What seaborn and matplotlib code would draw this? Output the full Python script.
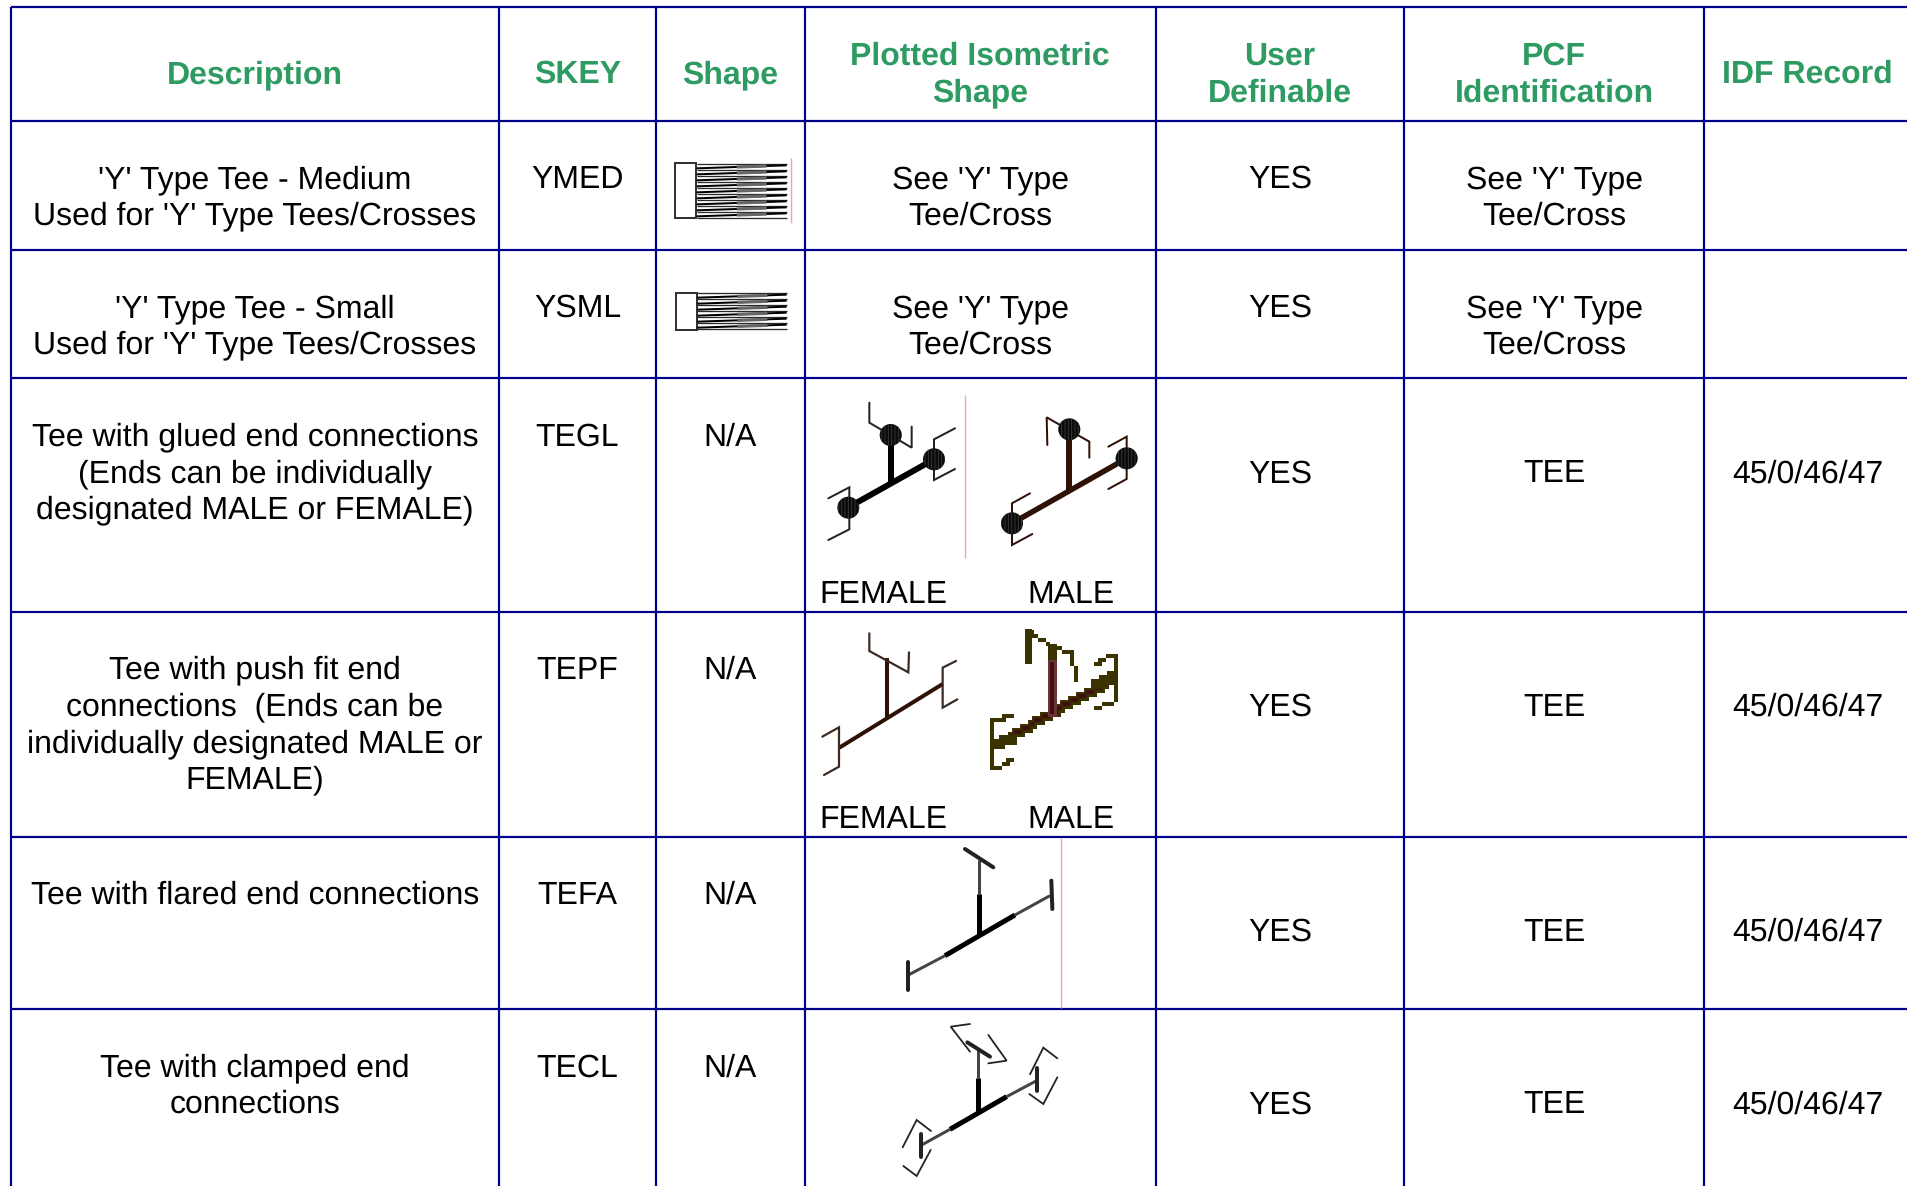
import numpy as np
import seaborn as sns
from matplotlib import pyplot as plt
from matplotlib.patches import Circle

sns.set_theme(style="white")
plt.rcParams['font.family'] = ['Liberation Sans', 'DejaVu Sans']
plt.rcParams['text.hinting'] = 'no_hinting'
plt.rcParams['hatch.linewidth'] = 0.6

# table text
headers = ["Description", "SKEY", "Shape", "Plotted Isometric\nShape", "User\nDefinable",
           "PCF\nIdentification", "IDF Record"]
descriptions = ["'Y' Type Tee - Medium\nUsed for 'Y' Type Tees/Crosses",
                "'Y' Type Tee - Small\nUsed for 'Y' Type Tees/Crosses",
                "Tee with glued end connections\n(Ends can be individually\ndesignated MALE or FEMALE)",
                "Tee with push fit end\nconnections  (Ends can be\nindividually designated MALE or\nFEMALE)",
                "Tee with flared end connections",
                "Tee with clamped end\nconnections"]
skeys = ["YMED", "YSML", "TEGL", "TEPF", "TEFA", "TECL"]
shapes = ["", "", "N/A", "N/A", "N/A", "N/A"]
plotted = ["See 'Y' Type\nTee/Cross", "See 'Y' Type\nTee/Cross", "", "", "", ""]
user_definable = ["YES", "YES", "YES", "YES", "YES", "YES"]
pcf_ids = ["See 'Y' Type\nTee/Cross", "See 'Y' Type\nTee/Cross", "TEE", "TEE", "TEE", "TEE"]
idf_records = ["", "", "45/0/46/47", "45/0/46/47", "45/0/46/47", "45/0/46/47"]

# table layout, in pixels of the picture
col_edges = [10.7, 499, 656, 804.7, 1155.7, 1404, 1704.5, 1911]
row_edges = [7, 121, 250, 378.3, 611.7, 836.7, 1009.3, 1186]
top_offset = 67
mid_offsets = [67, 67, 104, 104, 104, 104]
line_h = 36.6

NAVY = "#00008b"
GREEN = "#2e9b62"
PINK = "#f4a6a6"
BROWN = "#2e1206"
OLIVE = "#3a3300"
MAROON = "#3f0f12"
ROSE = "#6b3338"
GREY = "#444444"

# icon strokes (x, y in 3x crop coordinates)
ymed_left = [162, 180, 198, 216, 234, 252, 270, 288, 306, 324]
ysml_left = [550, 568, 586, 604, 622, 640, 658]

glued_f_main = [(145, 382), (402, 238)]
glued_f_stem = [(272, 165), (272, 305)]
glued_f_hubs = [(145, 383), (272, 165), (402, 238)]
glued_f_brackets = [[(208, 68), (208, 128), (335, 203), (335, 140)],
                    [(465, 145), (402, 178), (402, 300), (465, 267)],
                    [(85, 355), (148, 322), (148, 448), (85, 480)]]
glued_m_main = [(636, 430), (980, 235)]
glued_m_stem = [(808, 150), (808, 330)]
glued_m_hubs = [(636, 430), (808, 148), (980, 235)]
glued_m_brackets = [[(742, 195), (740, 112), (868, 185), (868, 233)],
                    [(925, 200), (980, 170), (980, 297), (925, 327)],
                    [(690, 340), (636, 370), (636, 495), (697, 462)]]

push_f_main = [(118, 383), (428, 192)]
push_f_stem = [(262, 115), (262, 295)]
push_f_brackets = [[(208, 40), (208, 93), (325, 157), (327, 97)],
                   [(468, 123), (428, 143), (428, 263), (472, 238)],
                   [(67, 350), (117, 322), (117, 440), (72, 465)]]
push_m_main = [(600, 368), (935, 176)]
push_m_ends = [[(592, 372), (635, 358)], [(890, 190), (935, 172)]]
push_m_stem_top = [(760, 80), (760, 135)]
push_m_stem_low = [(760, 135), (760, 275)]
push_m_post = [(688, 38), (688, 125)]
push_m_brackets = [[(690, 40), (760, 80), (820, 105), (825, 175)],
                   [(885, 133), (945, 103), (945, 245), (885, 268)],
                   [(635, 285), (578, 305), (578, 448), (640, 420)]]

flared_thin = [[(205, 420), (315, 362)], [(525, 240), (630, 182)], [(417, 178), (417, 75)]]
flared_thick = [[(315, 362), (525, 240)], [(417, 300), (417, 178)]]
flared_flanges = [[(375, 42), (460, 97)], [(634, 137), (637, 222)], [(203, 380), (203, 465)]]

clamped_thin = [[(245, 930), (330, 883)], [(500, 785), (588, 738)], [(415, 730), (415, 645)]]
clamped_thick = [[(330, 883), (500, 785)], [(415, 830), (415, 730)]]
clamped_flanges = [[(382, 622), (450, 665)], [(592, 698), (592, 768)], [(243, 898), (243, 965)]]
clamped_brackets = [[(390, 567), (332, 575), (390, 650)], [(445, 600), (500, 677), (445, 685)],
                    [(570, 718), (610, 638), (652, 670)], [(652, 727), (610, 807), (568, 777)],
                    [(188, 937), (230, 855), (273, 888)], [(272, 945), (230, 1023), (190, 993)]]


def draw(ax, pts, origin, color, px, cap="round"):
    # pts are crop coordinates, origin is where that crop starts
    xs = [origin[0] + p[0] / 3 for p in pts]
    ys = [origin[1] + p[1] / 3 for p in pts]
    sns.lineplot(x=xs, y=ys, sort=False, estimator=None, color=color, linewidth=px * 0.72,
                 solid_capstyle=cap, solid_joinstyle="miter", legend=False, ax=ax)


def hub(ax, pos, origin, radius=11):
    ax.add_patch(Circle((origin[0] + pos[0] / 3, origin[1] + pos[1] / 3), radius, facecolor="#0a0a0a",
                        edgecolor="#3c3c3c", hatch="|||||", linewidth=0, zorder=4))


def blocks(ax, pts, origin, color, size, step=4):
    # the push fit male icon is a blown up bitmap, so snap it to a coarse grid
    for a, b in zip(pts[:-1], pts[1:]):
        a = np.array(a) / 3 + origin
        b = np.array(b) / 3 + origin
        n = int(np.hypot(*(b - a)) / step) + 1
        xy = np.round(np.linspace(a, b, n + 1) / step) * step
        ax.scatter(xy[:, 0], xy[:, 1], marker="s", s=(size * 0.72) ** 2, color=color, linewidths=0, zorder=3)


def teeth(ax, ys, x0, origin):
    # the fanned lines of the Y type symbols
    for y in ys:
        draw(ax, [(x0, y), (440, y)], origin, "#2a2a2a", 1.3, cap="butt")
    for y in ys[:-1]:
        draw(ax, [(x0, y + 13), (440, y + 4)], origin, "black", 2, cap="butt")
        draw(ax, [(x0 + 120, y + 9), (x0 + 210, y + 6)], origin, "#666666", 3.2, cap="butt")


def cell(ax, x, first_center, text, **kw):
    for i, line in enumerate(text.split("\n")):
        ax.text(x, first_center + 11 + i * line_h, line, ha="center", va="baseline", **kw)


fig = plt.figure(figsize=(19.08, 11.86), dpi=100)
ax = fig.add_axes([0, 0, 1, 1])

# grid
for x in col_edges[:-1]:
    draw(ax, [(x * 3, row_edges[0] * 3), (x * 3, row_edges[-1] * 3)], (0, 0), NAVY, 2.2, cap="butt")
for y in row_edges[:-1]:
    draw(ax, [(col_edges[0] * 3, y * 3), (1908 * 3, y * 3)], (0, 0), NAVY, 2.2, cap="butt")

centers = [(a + b) / 2 for a, b in zip(col_edges[:-1], col_edges[1:])]

# header row
for x, head in zip(centers, headers):
    n = head.count("\n")
    cell(ax, x, 72 - n * line_h / 2, head, fontsize=23, fontweight="bold", color=GREEN)

# body rows
for r in range(len(skeys)):
    top = row_edges[r + 1] + top_offset - 11
    mid = row_edges[r + 1] + mid_offsets[r] - 11
    cell(ax, centers[0], top, descriptions[r], fontsize=23, color="black")
    cell(ax, centers[1], top, skeys[r], fontsize=23, color="black")
    cell(ax, centers[2], top, shapes[r], fontsize=23, color="black")
    cell(ax, centers[3], top, plotted[r], fontsize=23, color="black")
    cell(ax, centers[4], mid, user_definable[r], fontsize=23, color="black")
    cell(ax, centers[5], mid, pcf_ids[r], fontsize=23, color="black")
    cell(ax, centers[6], mid, idf_records[r], fontsize=23, color="black")

# FEMALE / MALE captions
for y in [603, 828]:
    ax.text(883, y, "FEMALE", ha="center", va="baseline", fontsize=23, color="black")
    ax.text(1071, y, "MALE", ha="center", va="baseline", fontsize=23, color="black")

# Y type tee icons
o1 = (640, 110)
draw(ax, [(105, 160), (168, 160), (168, 325), (105, 325), (105, 160)], o1, "#333333", 2)
teeth(ax, ymed_left, 170, o1)
draw(ax, [(453, 145), (453, 338)], o1, PINK, 1.4, cap="butt")
draw(ax, [(107, 548), (172, 548), (172, 660), (107, 660), (107, 548)], o1, "#333333", 2)
teeth(ax, ysml_left, 172, o1)

# glued tee
o2 = (800, 380)
draw(ax, glued_f_main, o2, "black", 6, cap="butt")
draw(ax, glued_f_stem, o2, "black", 6, cap="butt")
for b in glued_f_brackets:
    draw(ax, b, o2, "#222222", 2)
for h in glued_f_hubs:
    hub(ax, h, o2)
draw(ax, [(495, 45), (495, 533)], o2, PINK, 1.4, cap="butt")
draw(ax, glued_m_main, o2, BROWN, 5.5, cap="butt")
draw(ax, glued_m_stem, o2, BROWN, 6, cap="butt")
for b in glued_m_brackets:
    draw(ax, b, o2, BROWN, 2)
for h in glued_m_hubs:
    hub(ax, h, o2)

# push fit tee
o3 = (800, 620)
draw(ax, push_f_main, o3, BROWN, 4, cap="butt")
draw(ax, push_f_stem, o3, BROWN, 4, cap="butt")
for b in push_f_brackets:
    draw(ax, b, o3, "#3a2a20", 2.2)
blocks(ax, push_m_main, o3, OLIVE, 9)
blocks(ax, push_m_main, o3, MAROON, 4)
for e in push_m_ends:
    blocks(ax, e, o3, OLIVE, 10)
blocks(ax, push_m_post, o3, OLIVE, 7)
blocks(ax, push_m_stem_top, o3, OLIVE, 9)
blocks(ax, push_m_stem_low, o3, ROSE, 9)
blocks(ax, push_m_stem_low, o3, MAROON, 3.5)
for b in push_m_brackets:
    blocks(ax, b, o3, OLIVE, 4.5)

# flared and clamped tees
o4 = (840, 835)
for s in flared_thin + clamped_thin:
    draw(ax, s, o4, GREY, 3, cap="butt")
for s in flared_thick + clamped_thick:
    draw(ax, s, o4, "black", 5, cap="butt")
for s in flared_flanges + clamped_flanges:
    draw(ax, s, o4, "#222222", 4)
for b in clamped_brackets:
    draw(ax, b, o4, "#222222", 1.8)
draw(ax, [(664, 10), (664, 520)], o4, PINK, 1.4, cap="butt")

ax.set_xlim(0, 1908)
ax.set_ylim(1186, 0)
ax.axis("off")

fig.savefig("out.png", dpi=100, facecolor="white")
